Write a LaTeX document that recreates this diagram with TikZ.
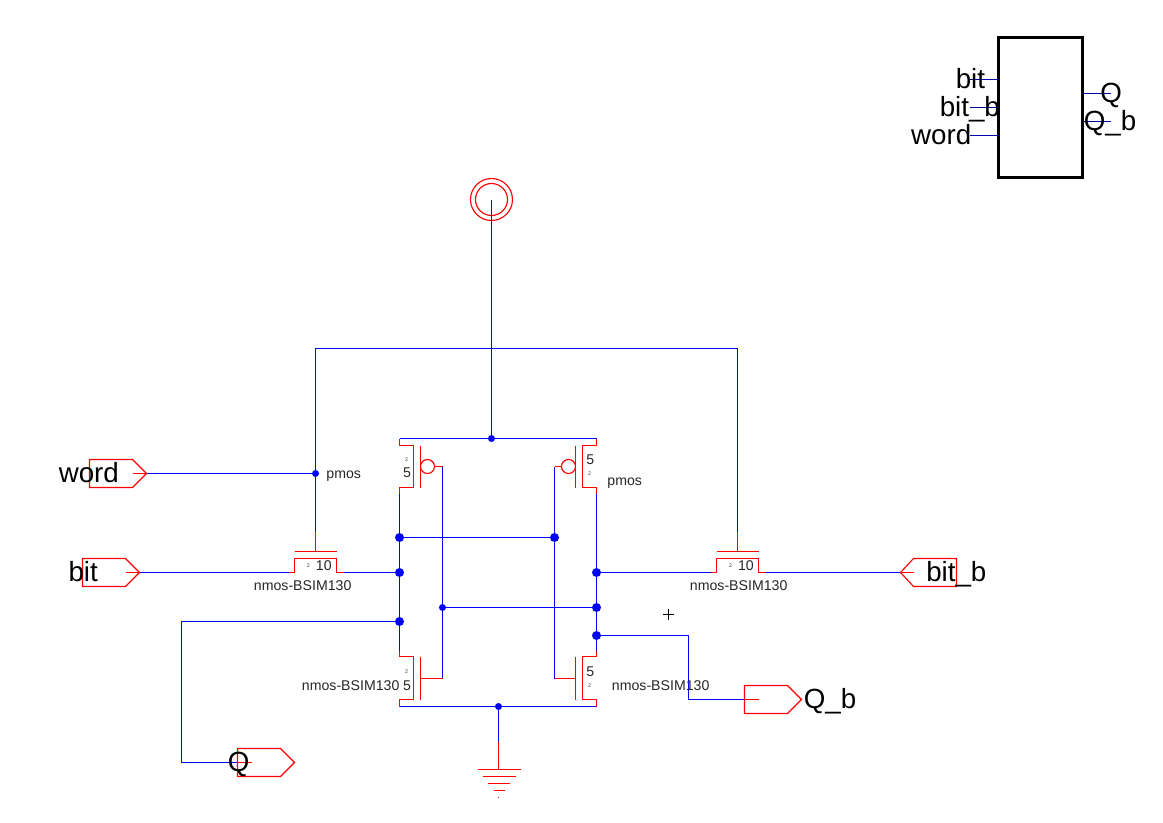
\documentclass[tikz,border=0pt]{standalone}
\usepackage{fontspec}
\setmainfont{Liberation Sans}
\definecolor{wireblue}{RGB}{0,0,255}
\definecolor{devred}{RGB}{255,0,0}
\definecolor{pinblue}{RGB}{0,0,170}
\tikzset{
  wire/.style={draw=wireblue,line width=0.85pt},
  dev/.style={draw=devred,line width=0.85pt},
  pinline/.style={draw=pinblue,line width=0.7pt},
  jbig/.style={circle,fill=wireblue,inner sep=0pt,minimum size=6.75pt},
  jsmall/.style={circle,fill=wireblue,inner sep=0pt,minimum size=5.25pt},
  biglabel/.style={anchor=base west,inner sep=0pt,font=\fontsize{20.8}{24}\selectfont},
  smalllabel/.style={anchor=base west,inner sep=0pt,text=black!85,font=\fontsize{10.6}{12}\selectfont},
  sizelabel/.style={anchor=base west,inner sep=0pt,text=black!85,font=\fontsize{10.6}{13}\selectfont},
  tinylabel/.style={inner sep=0pt,text=black!75,font=\fontsize{4}{5}\selectfont},
}
\begin{document}
\begin{tikzpicture}[x=0.75pt,y=-0.75pt]
\useasboundingbox (0,0) rectangle (1163,822);
% junctions
\coordinate (vc) at (491.5,199.5);
\coordinate (vr) at (491.5,438.5);
\coordinate (rtl) at (399.5,438.5);
\coordinate (rtr) at (596.5,438.5);
\coordinate (rbl) at (399.5,706.5);
\coordinate (rbr) at (596.5,706.5);
\coordinate (gj) at (498.5,706.5);
\coordinate (gw) at (498.5,741.5);
\coordinate (gt) at (498.5,769.5);
\coordinate (lup) at (399.5,493.5);
\coordinate (llo) at (399.5,650.5);
\coordinate (rup) at (596.5,493.5);
\coordinate (rlo) at (596.5,650.5);
\coordinate (la) at (399.5,537.5);
\coordinate (lb) at (399.5,572.5);
\coordinate (lc) at (399.5,621.5);
\coordinate (ra) at (554.5,537.5);
\coordinate (rb) at (596.5,572.5);
\coordinate (rc) at (596.5,607.5);
\coordinate (rd) at (596.5,635.5);
\coordinate (ga) at (442.5,607.5);
\coordinate (gpl) at (442.5,466.5);
\coordinate (gnl) at (442.5,678.5);
\coordinate (gpr) at (554.5,466.5);
\coordinate (gnr) at (554.5,678.5);
\coordinate (wj) at (315.5,473.5);
\coordinate (wtl) at (315.5,348.5);
\coordinate (wtr) at (737.5,348.5);
\coordinate (pgl) at (315.5,531.5);
\coordinate (pgr) at (737.5,531.5);
\coordinate (psl) at (288.5,572.5);
\coordinate (pdl) at (343.5,572.5);
\coordinate (psr) at (710.5,572.5);
\coordinate (pdr) at (765.5,572.5);
\coordinate (wordtip) at (146.5,473.5);
\coordinate (bittip) at (139.5,572.5);
\coordinate (bitbtip) at (900.5,572.5);
\coordinate (qin) at (237.5,762.5);
\coordinate (qcorner) at (181.5,621.5);
\coordinate (qlow) at (181.5,762.5);
\coordinate (qbcorner) at (688.5,635.5);
\coordinate (qblow) at (688.5,699.5);
\coordinate (qbin) at (744.5,699.5);
% supply rings (under the wire)
\draw[dev] (vc) circle[radius=21];
\draw[dev] (vc) circle[radius=16];
% blue wires
\draw[wire] (vc) -- (vr);
\draw[wire] (rtl) -- (rtr);
\draw[wire] (rbl) -- (rbr);
\draw[wire] (gj) -- (gw);
\draw[wire] (lup) -- (llo);
\draw[wire] (rup) -- (rlo);
\draw[wire] (la) -- (ra);
\draw[wire] (ga) -- (rc);
\draw[wire] (gpl) -- (gnl);
\draw[wire] (gpr) -- (gnr);
\draw[wire] (wordtip) -- (wj);
\draw[wire] (pgl) -- (wtl) -- (wtr) -- (pgr);
\draw[wire] (bittip) -- (psl);
\draw[wire] (pdl) -- (lb);
\draw[wire] (rb) -- (psr);
\draw[wire] (pdr) -- (bitbtip);
\draw[wire] (lc) -- (qcorner) -- (qlow) -- (qin);
\draw[wire] (rd) -- (qbcorner) -- (qblow) -- (qbin);
% junction dots
\node[jsmall] (d1) at (vr) {};
\node[jsmall] (d2) at (gj) {};
\node[jsmall] (d3) at (wj) {};
\node[jsmall] (d4) at (ga) {};
\node[jbig] (d5) at (la) {};
\node[jbig] (d6) at (lb) {};
\node[jbig] (d7) at (lc) {};
\node[jbig] (d8) at (ra) {};
\node[jbig] (d9) at (rb) {};
\node[jbig] (d10) at (rc) {};
\node[jbig] (d11) at (rd) {};
% ground
\draw[dev] (gw) -- (gt);
\draw[dev] (477.5,769.5) -- (520.5,769.5);
\draw[dev] (482.5,776.5) -- (515.5,776.5);
\draw[dev] (487.5,783.5) -- (509.5,783.5);
\draw[dev] (493.5,790.5) -- (504.5,790.5);
\draw[dev] (498,797.5) -- (499,797.5);
% pmos left
\draw[dev] (rtl) -- (399.5,445.5) -- (413.5,445.5) -- (413.5,487.5) -- (399.5,487.5) -- (lup);
\draw[dev] (420.5,445.5) -- (420.5,487.5);
\draw[dev] (427.5,466.5) circle[radius=7];
\draw[dev] (434.5,466.5) -- (gpl);
% pmos right
\draw[dev] (rtr) -- (596.5,445.5) -- (582.5,445.5) -- (582.5,487.5) -- (596.5,487.5) -- (rup);
\draw[dev] (575.5,445.5) -- (575.5,487.5);
\draw[dev] (568.5,466.5) circle[radius=7];
\draw[dev] (561.5,466.5) -- (gpr);
% nmos left
\draw[dev] (llo) -- (399.5,656.5) -- (413.5,656.5) -- (413.5,699.5) -- (399.5,699.5) -- (rbl);
\draw[dev] (420.5,656.5) -- (420.5,699.5);
\draw[dev] (420.5,678.5) -- (gnl);
% nmos right
\draw[dev] (rlo) -- (596.5,656.5) -- (582.5,656.5) -- (582.5,699.5) -- (596.5,699.5) -- (rbr);
\draw[dev] (575.5,656.5) -- (575.5,699.5);
\draw[dev] (575.5,678.5) -- (gnr);
% pass left
\draw[dev] (psl) -- (294.5,572.5) -- (294.5,558.5) -- (336.5,558.5) -- (336.5,572.5) -- (pdl);
\draw[dev] (294.5,551.5) -- (336.5,551.5);
\draw[dev] (315.5,551.5) -- (pgl);
% pass right
\draw[dev] (psr) -- (716.5,572.5) -- (716.5,558.5) -- (758.5,558.5) -- (758.5,572.5) -- (pdr);
\draw[dev] (716.5,551.5) -- (758.5,551.5);
\draw[dev] (737.5,551.5) -- (pgr);
% ports
\draw[dev] (89.5,459.5) -- (132.5,459.5) -- (wordtip) -- (132.5,487.5) -- (89.5,487.5) -- cycle;
\draw[dev] (132.5,473.5) -- (wordtip);
\draw[dev] (82.5,558.5) -- (125.5,558.5) -- (bittip) -- (125.5,586.5) -- (82.5,586.5) -- cycle;
\draw[dev] (125.5,572.5) -- (bittip);
\draw[dev] (956.5,558.5) -- (913.5,558.5) -- (bitbtip) -- (913.5,586.5) -- (956.5,586.5) -- cycle;
\draw[dev] (913.5,572.5) -- (bitbtip);
\draw[dev] (qin) -- (237.5,748.5) -- (280.5,748.5) -- (294.5,762.5) -- (280.5,776.5) -- (237.5,776.5) -- cycle;
\draw[dev] (qin) -- (251.5,762.5);
\draw[dev] (qbin) -- (744.5,685.5) -- (787.5,685.5) -- (801.5,699.5) -- (787.5,713.5) -- (744.5,713.5) -- cycle;
\draw[dev] (qbin) -- (758.5,699.5);
% port labels
\node[biglabel] (lword) at (58.5,482.7) {word};
\node[biglabel] (lbit) at (68.3,581.7) {bit};
\node[biglabel] (lbitb) at (926,581.7) {bit\_b};
\node[biglabel] (lq) at (227.5,771.7) {Q};
\node[biglabel] (lqb) at (803.5,708.3) {Q\_b};
% device labels
\node[smalllabel] (m1) at (326.2,478) {pmos};
\node[smalllabel] (m2) at (607.2,485) {pmos};
\node[smalllabel] (m3) at (253.7,590.7) {nmos-BSIM130};
\node[smalllabel] (m4) at (689.7,590.7) {nmos-BSIM130};
\node[smalllabel] (m5) at (301.7,690) {nmos-BSIM130};
\node[smalllabel] (m6) at (611.7,690) {nmos-BSIM130};
\node[sizelabel] (s1) at (402.8,477.7) {5};
\node[sizelabel] (s2) at (586.2,464.3) {5};
\node[sizelabel] (s3) at (402.8,690) {5};
\node[sizelabel] (s4) at (586.2,676.3) {5};
\node[sizelabel] (s5) at (315.7,570) {10};
\node[sizelabel] (s6) at (737.8,570) {10};
\node[tinylabel] (t1) at (406.7,459.7) {2};
\node[tinylabel] (t2) at (589.7,473.7) {2};
\node[tinylabel] (t3) at (406.7,671.3) {2};
\node[tinylabel] (t4) at (589.7,685.7) {2};
\node[tinylabel] (t5) at (308.3,565.7) {2};
\node[tinylabel] (t6) at (730.7,565.7) {2};
% cursor mark
\draw[black,line width=0.6pt] (662.5,614.5) -- (673.5,614.5);
\draw[black,line width=0.6pt] (668.5,608.5) -- (668.5,619.5);
% symbol
\node[draw=black,line width=2.25pt,outer sep=0pt,minimum width=63pt,minimum height=105pt,inner sep=0pt,anchor=north west] (sym) at (998.5,37.5) {};
\coordinate (p1) at (970,79.5);
\coordinate (p2) at (970,107.5);
\coordinate (p3) at (970,135.5);
\coordinate (p4) at (1110.7,93.5);
\coordinate (p5) at (1110.7,121.5);
\draw[pinline] (p1) -- (p1 -| sym.west);
\draw[pinline] (p2) -- (p2 -| sym.west);
\draw[pinline] (p3) -- (p3 -| sym.west);
\draw[pinline] (p4) -- (p4 -| sym.east);
\draw[pinline] (p5) -- (p5 -| sym.east);
\node[biglabel] (sbit) at (955.5,88.3) {bit};
\node[biglabel] (sbitb) at (939.5,116) {bit\_b};
\node[biglabel] (sword) at (910.8,144) {word};
\node[biglabel] (sq) at (1100,102.3) {Q};
\node[biglabel] (sqb) at (1083.6,130) {Q\_b};
\end{tikzpicture}
\end{document}
